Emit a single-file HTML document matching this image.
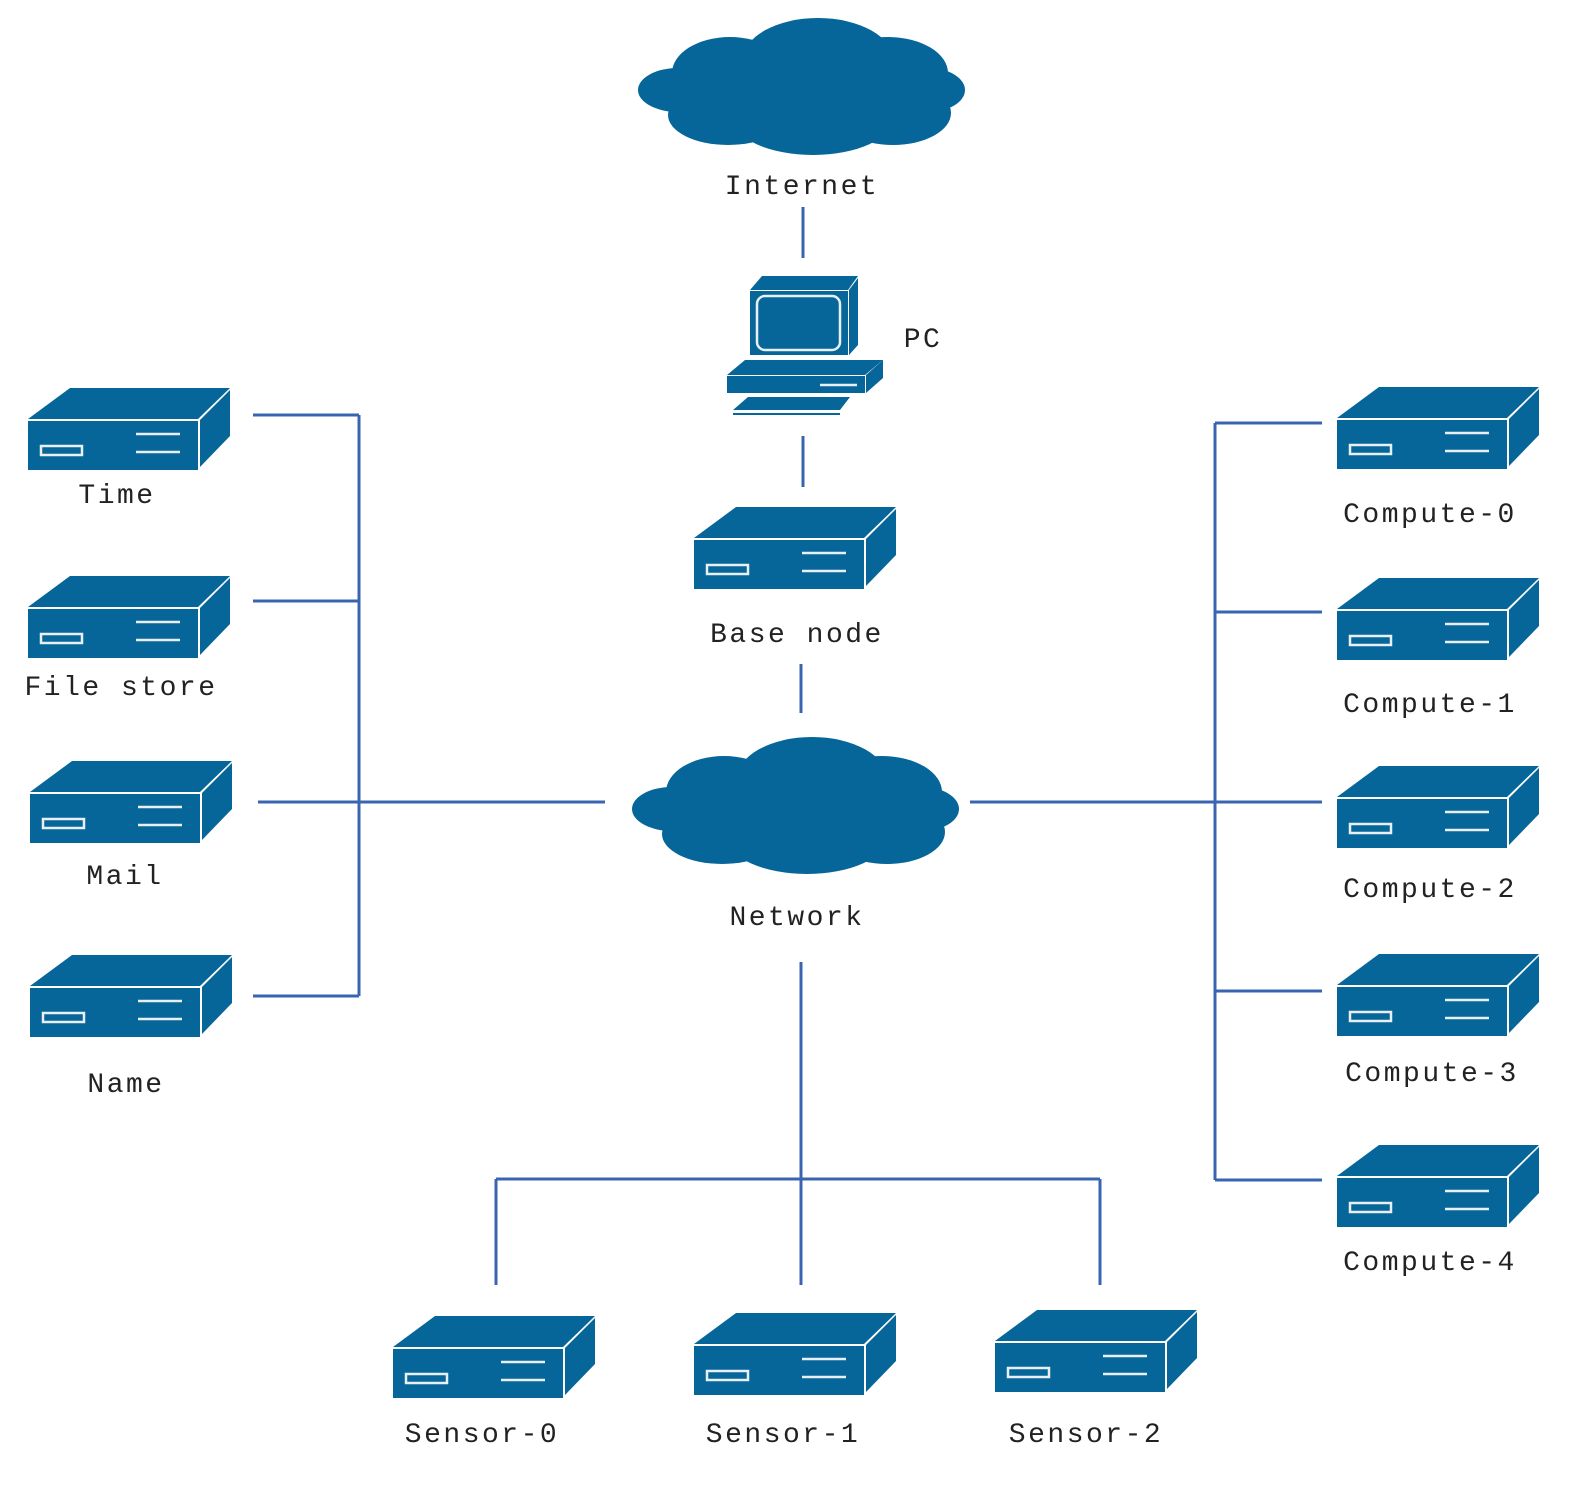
<!DOCTYPE html>
<html><head><meta charset="utf-8"><style>
html,body{margin:0;padding:0;background:#fff;overflow:hidden;width:1574px;height:1491px;}
svg{display:block;}
text{font-family:"Liberation Mono",monospace;font-size:28px;fill:#222;letter-spacing:2.5px;text-anchor:middle;}
</style></head><body>
<svg width="1574" height="1491" viewBox="0 0 1574 1491" xmlns="http://www.w3.org/2000/svg">
<defs>
<g id="srv">
<polygon points="0,31 42,0 202,0 170,31" fill="#066699"/>
<polygon points="172,32 202,2 202,48 172,79" fill="#066699"/>
<rect x="0" y="33" width="170" height="49" fill="#066699"/>
<rect x="13" y="58" width="41" height="9" fill="none" stroke="#e8f0f6" stroke-width="2.5"/>
<line x1="108" y1="46" x2="152" y2="46" stroke="#e8f0f6" stroke-width="2.5"/>
<line x1="108" y1="64" x2="152" y2="64" stroke="#e8f0f6" stroke-width="2.5"/>
</g>
<g id="cloud" fill="#066699">
<ellipse cx="180" cy="42" rx="75" ry="42"/>
<ellipse cx="92" cy="55" rx="58" ry="36"/>
<ellipse cx="250" cy="55" rx="60" ry="36"/>
<ellipse cx="40" cy="72" rx="40" ry="22"/>
<ellipse cx="290" cy="72" rx="37" ry="22"/>
<ellipse cx="90" cy="97" rx="60" ry="30"/>
<ellipse cx="175" cy="100" rx="80" ry="37"/>
<ellipse cx="255" cy="95" rx="58" ry="32"/>
<rect x="40" y="50" width="250" height="50"/>
</g>
</defs>

<g stroke="#3a64b0" stroke-width="3" fill="none">
<line x1="803" y1="207" x2="803" y2="258"/>
<line x1="803" y1="436" x2="803" y2="487"/>
<line x1="801" y1="664" x2="801" y2="713"/>
<line x1="359" y1="415" x2="359" y2="996"/>
<line x1="253" y1="415" x2="359" y2="415"/>
<line x1="253" y1="601" x2="359" y2="601"/>
<line x1="258" y1="802" x2="605" y2="802"/>
<line x1="253" y1="996" x2="359" y2="996"/>
<line x1="1215" y1="423" x2="1215" y2="1180"/>
<line x1="1215" y1="423" x2="1322" y2="423"/>
<line x1="1215" y1="612" x2="1322" y2="612"/>
<line x1="970" y1="802" x2="1322" y2="802"/>
<line x1="1215" y1="991" x2="1322" y2="991"/>
<line x1="1215" y1="1180" x2="1322" y2="1180"/>
<line x1="801" y1="962" x2="801" y2="1285"/>
<line x1="496" y1="1179" x2="1100" y2="1179"/>
<line x1="496" y1="1179" x2="496" y2="1285"/>
<line x1="1100" y1="1179" x2="1100" y2="1285"/>
</g>

<use href="#cloud" x="638" y="18"/>
<use href="#cloud" x="632" y="737"/>

<g fill="#066699">
<polygon points="750,290 762,276 858,276 848,290"/>
<polygon points="849,290 858,278 858,345 849,355"/>
<rect x="750" y="291" width="98" height="64"/>
<rect x="757" y="296" width="83" height="54" rx="8" fill="none" stroke="#e8f0f6" stroke-width="2.5"/>
<polygon points="727,375 745,360 883,360 865,375"/>
<polygon points="866,375 883,360 883,378 866,393"/>
<rect x="727" y="376" width="138" height="17"/>
<line x1="820" y1="385" x2="857" y2="385" stroke="#e8f0f6" stroke-width="2.5"/>
<polygon points="733,410 748,397 850,397 840,410"/>
<line x1="733" y1="414" x2="840" y2="414" stroke="#066699" stroke-width="2"/>
</g>

<use href="#srv" x="28" y="388"/>
<use href="#srv" x="28" y="576"/>
<use href="#srv" x="30" y="761"/>
<use href="#srv" x="30" y="955"/>
<use href="#srv" x="694" y="507"/>
<use href="#srv" x="1337" y="387"/>
<use href="#srv" x="1337" y="578"/>
<use href="#srv" x="1337" y="766"/>
<use href="#srv" x="1337" y="954"/>
<use href="#srv" x="1337" y="1145"/>
<use href="#srv" x="393" y="1316"/>
<use href="#srv" x="694" y="1313"/>
<use href="#srv" x="995" y="1310"/>

<text x="802" y="194">Internet</text>
<text x="923" y="347">PC</text>
<text x="797" y="642">Base node</text>
<text x="797" y="925">Network</text>
<text x="117" y="503">Time</text>
<text x="121" y="695">File store</text>
<text x="125" y="884">Mail</text>
<text x="126" y="1092">Name</text>
<text x="1430" y="522">Compute-0</text>
<text x="1430" y="712">Compute-1</text>
<text x="1430" y="897">Compute-2</text>
<text x="1432" y="1081">Compute-3</text>
<text x="1430" y="1270">Compute-4</text>
<text x="482" y="1442">Sensor-0</text>
<text x="783" y="1442">Sensor-1</text>
<text x="1086" y="1442">Sensor-2</text>
</svg>
</body></html>
